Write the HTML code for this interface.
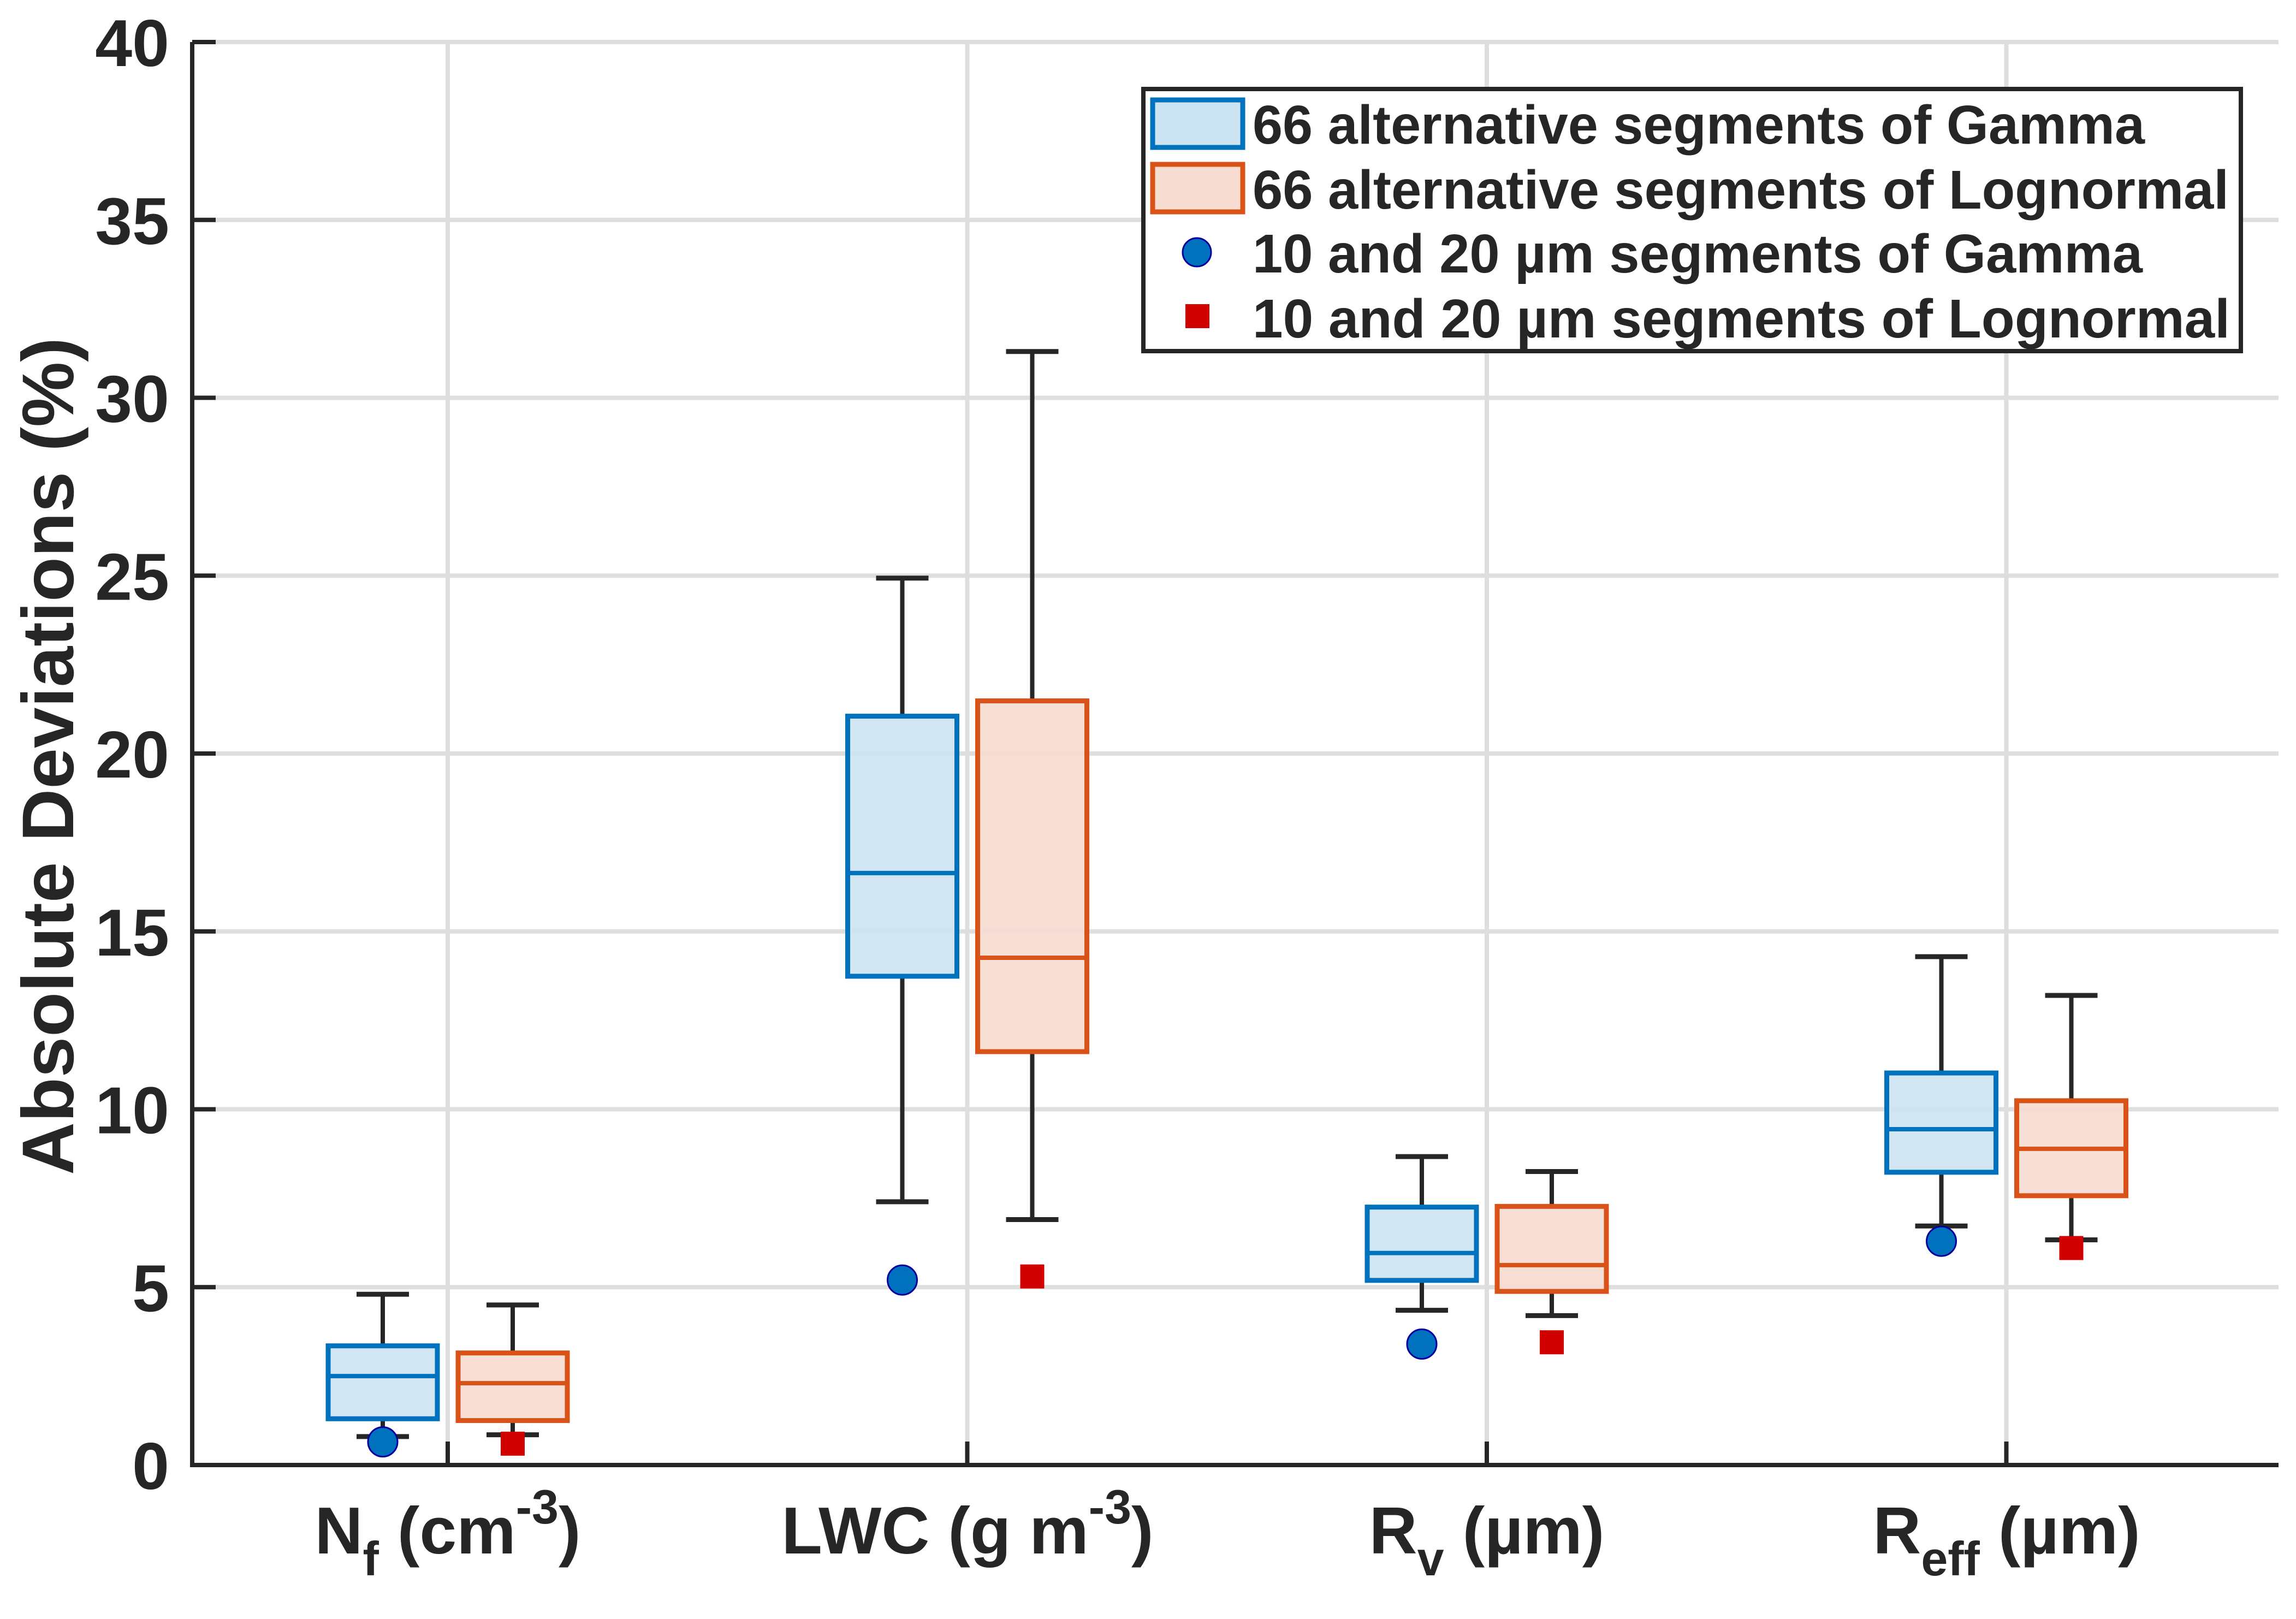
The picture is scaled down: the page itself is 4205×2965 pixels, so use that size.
<!DOCTYPE html>
<html><head><meta charset="utf-8"><style>html,body{margin:0;padding:0;background:#fff}svg{display:block}text{font-family:"Liberation Sans",sans-serif;font-weight:bold;fill:#262626}</style></head>
<body>
<svg id="chart" xmlns="http://www.w3.org/2000/svg" width="4205" height="2965" viewBox="0 0 4205 2965">
<rect width="4205" height="2965" fill="#fff"/>
<g id="grid"></g>
<g id="plot"></g>
<g id="axes"></g>
<text transform="translate(134,1385) rotate(-90)" text-anchor="middle" font-size="134">Absolute Deviations (%)</text>
<text x="820" y="2845" text-anchor="middle" font-size="122">N<tspan font-size="88" dy="40">f</tspan><tspan dy="-40"> (cm</tspan><tspan font-size="88" dy="-55">-3</tspan><tspan dy="55">)</tspan></text>
<text x="1772" y="2845" text-anchor="middle" font-size="122">LWC (g m<tspan font-size="88" dy="-55">-3</tspan><tspan dy="55">)</tspan></text>
<text x="2723" y="2845" text-anchor="middle" font-size="122">R<tspan font-size="88" dy="40">v</tspan><tspan dy="-40"> (µm)</tspan></text>
<text x="3675" y="2845" text-anchor="middle" font-size="122">R<tspan font-size="88" dy="40">eff</tspan><tspan dy="-40"> (µm)</tspan></text>
<g>
<rect x="2094" y="163" width="2010" height="480" fill="#fff" stroke="#262626" stroke-width="8"/>
<rect x="2111" y="183" width="165" height="87" fill="#cce3f1" stroke="#0072BD" stroke-width="9"/>
<rect x="2111" y="301" width="165" height="87" fill="#f7dcd1" stroke="#D95319" stroke-width="9"/>
<circle cx="2192" cy="462" r="26" fill="#0072BD" stroke="#0000a0" stroke-width="3"/>
<rect x="2171" y="557" width="44" height="44" fill="#d00000"/>
<text x="2294" y="263" font-size="100" fill="#000" textLength="1634" lengthAdjust="spacingAndGlyphs">66 alternative segments of Gamma</text>
<text x="2294" y="382" font-size="100" fill="#000" textLength="1788" lengthAdjust="spacingAndGlyphs">66 alternative segments of Lognormal</text>
<text x="2294" y="499" font-size="100" fill="#000" textLength="1630" lengthAdjust="spacingAndGlyphs">10 and 20 µm segments of Gamma</text>
<text x="2294" y="618" font-size="100" fill="#000" textLength="1790" lengthAdjust="spacingAndGlyphs">10 and 20 µm segments of Lognormal</text>
</g>
<script>
const categories = ["Nf","LWC","Rv","Reff"];
const gammaLow = [0.8, 7.4, 4.35, 6.72];
const gammaQ1 = [1.3, 13.74, 5.19, 8.23];
const gammaMed = [2.5, 16.64, 5.96, 9.44];
const gammaQ3 = [3.35, 21.05, 7.25, 11.02];
const gammaHigh = [4.8, 24.93, 8.67, 14.29];
const gammaPoint = [0.65, 5.2, 3.4, 6.29];
const lognLow = [0.85, 6.9, 4.2, 6.33];
const lognQ1 = [1.25, 11.62, 4.88, 7.57];
const lognMed = [2.3, 14.26, 5.62, 8.89];
const lognQ3 = [3.15, 21.48, 7.27, 10.24];
const lognHigh = [4.5, 31.3, 8.25, 13.2];
const lognPoint = [0.6, 5.3, 3.45, 6.1];
const yTicks = [0,5,10,15,20,25,30,35,40];

const NS="http://www.w3.org/2000/svg";
const X0=352, X1=4173, Y0=2683, Y1=77;
const y = v => Y0 - (v/40)*(Y0-Y1);
const xc = i => 820 + i*951.5;
function mk(tag, attrs, parent){const e=document.createElementNS(NS,tag);for(const k in attrs)e.setAttribute(k,attrs[k]);parent.appendChild(e);return e;}
const grid=document.getElementById('grid'), plot=document.getElementById('plot'), axes=document.getElementById('axes');
yTicks.forEach(t=>{
  const g=mk('line',{x1:X0,x2:X1,y1:y(t),y2:y(t),stroke:'#dedede','stroke-width':8},grid);
  
  
  const tk=mk('line',{x1:X0,x2:X0+43,y1:y(t),y2:y(t),stroke:'#262626','stroke-width':8},axes);
  
  
  const lb=mk('text',{x:310,y:y(t)+44,'text-anchor':'end','font-size':122},axes);
  lb.textContent=t;
  
  
});
categories.forEach((c,i)=>{
  const g=mk('line',{x1:xc(i),x2:xc(i),y1:Y1,y2:Y0,stroke:'#dedede','stroke-width':8},grid);
  
  
  const tk=mk('line',{x1:xc(i),x2:xc(i),y1:Y0,y2:Y0-43,stroke:'#262626','stroke-width':8},axes);
  
  
});
const ax=mk('path',{d:`M${X0},${Y1} V${Y0} H${X1}`,fill:'none',stroke:'#262626','stroke-width':8},axes);



function box(cx,lo,q1,md,q3,hi,col,fill,name){
  const g=mk('g',{},plot);
  
  
  mk('line',{x1:cx,x2:cx,y1:y(hi),y2:y(q3),stroke:'#262626','stroke-width':8},g);
  mk('line',{x1:cx,x2:cx,y1:y(q1),y2:y(lo),stroke:'#262626','stroke-width':8},g);
  mk('line',{x1:cx-48,x2:cx+48,y1:y(hi),y2:y(hi),stroke:'#262626','stroke-width':9},g);
  mk('line',{x1:cx-48,x2:cx+48,y1:y(lo),y2:y(lo),stroke:'#262626','stroke-width':9},g);
  mk('rect',{x:cx-100,y:y(q3),width:200,height:y(q1)-y(q3),fill:fill,stroke:col,'stroke-width':9},g);
  mk('line',{x1:cx-100,x2:cx+100,y1:y(md),y2:y(md),stroke:col,'stroke-width':8},g);
}
categories.forEach((c,i)=>{
  box(xc(i)-119,gammaLow[i],gammaQ1[i],gammaMed[i],gammaQ3[i],gammaHigh[i],'#0072BD','rgba(204,227,241,0.9)','gamma-box-'+c);
  box(xc(i)+119,lognLow[i],lognQ1[i],lognMed[i],lognQ3[i],lognHigh[i],'#D95319','rgba(247,220,209,0.9)','lognormal-box-'+c);
});
categories.forEach((c,i)=>{
  const p=mk('circle',{cx:xc(i)-119,cy:y(gammaPoint[i]),r:27,fill:'#0072BD',stroke:'#0000a0','stroke-width':3},plot);
  
  
  const s=mk('rect',{x:xc(i)+119-22,y:y(lognPoint[i])-22,width:44,height:44,fill:'#d00000'},plot);
  
  
});
</script>
</svg>
</body></html>
